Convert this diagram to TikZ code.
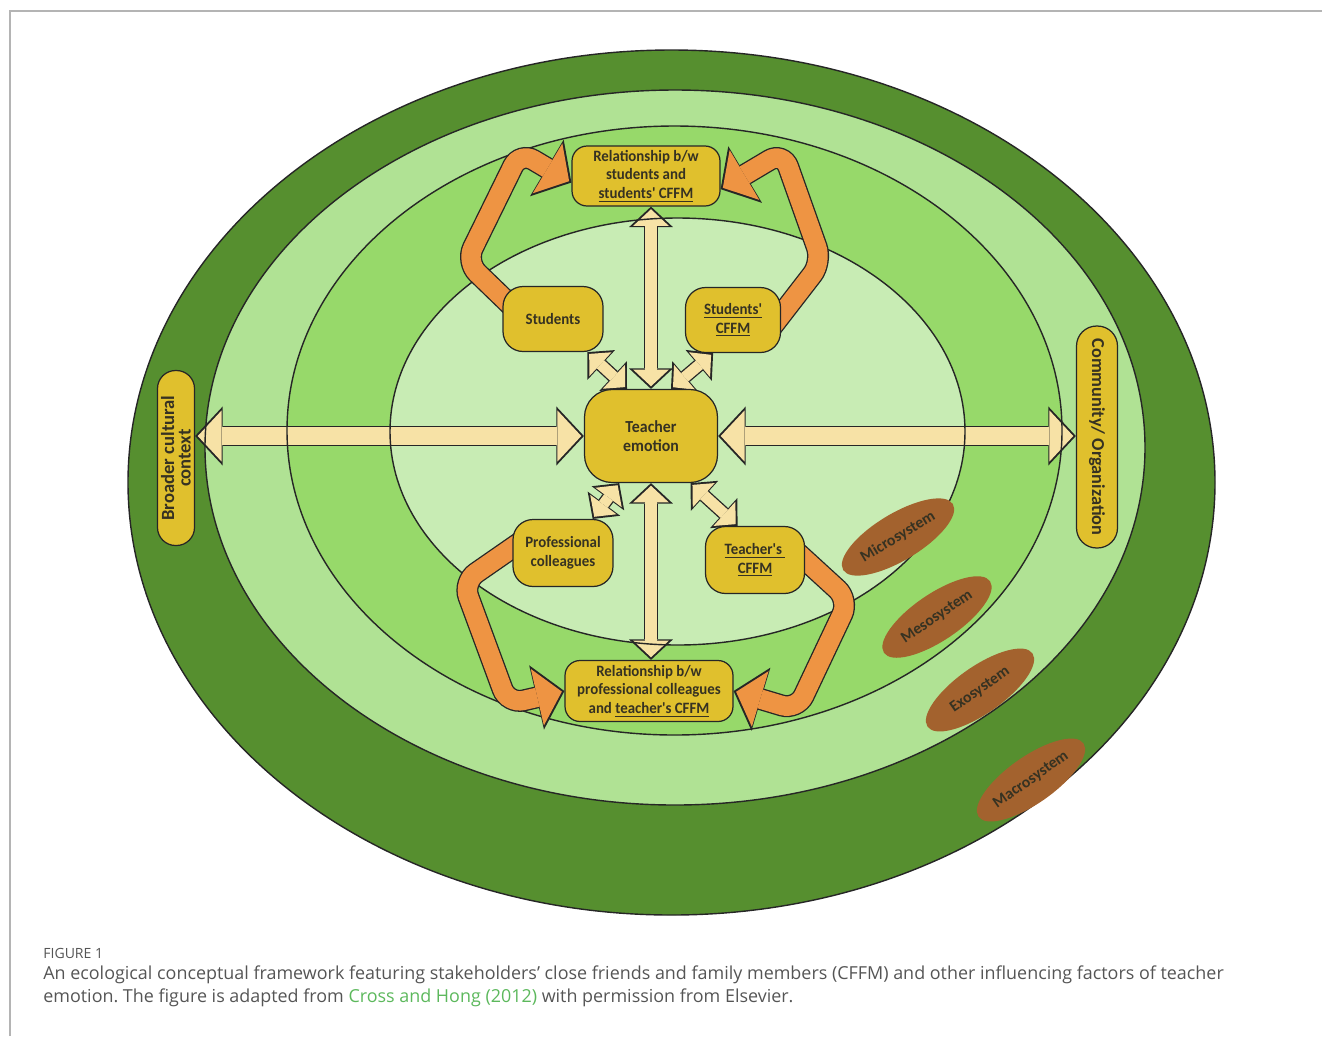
\documentclass[tikz,border=0pt]{standalone}
\usepackage{fontspec}
\setmainfont{Carlito}
\newfontfamily\boxfont{Carlito}[FakeStretch=0.94]
\newfontfamily\capfont{Open Sans}
\usepackage{tikz}
\usetikzlibrary{arrows.meta, shapes.geometric, positioning, calc}
\frenchspacing

\definecolor{macrogreen}{HTML}{568F2F}
\definecolor{exogreen}{HTML}{B0E294}
\definecolor{mesogreen}{HTML}{97D96A}
\definecolor{microgreen}{HTML}{C8ECB4}
\definecolor{boxyellow}{HTML}{E0C02D}
\definecolor{loopfill}{HTML}{EE9443}
\definecolor{creamfill}{HTML}{F7E2A6}
\definecolor{levelbrown}{HTML}{A3622E}
\definecolor{inkgrey}{HTML}{363222}
\definecolor{capgrey}{HTML}{555555}
\definecolor{framegrey}{HTML}{B4B4B4}
\definecolor{linkgreen}{HTML}{5CB85C}

\pgfdeclarelayer{rings}
\pgfdeclarelayer{links}
\pgfdeclarelayer{outlines}
\pgfdeclarelayer{loops}
\pgfsetlayers{rings,links,outlines,loops,main}

\begin{document}
\begin{tikzpicture}[
    x=0.02cm, y=-0.02cm,
    box/.style={
        rectangle, draw=black!85,
        line width=0.7pt,
        fill=boxyellow,
        text=inkgrey,
        rounded corners=0.4cm,
        align=center,
        inner sep=2pt,
        font=\boxfont\bfseries\fontsize{9}{10.6}\selectfont
    },
    level/.style={
        ellipse, fill=levelbrown,
        text=inkgrey,
        inner sep=0pt,
        minimum width=2.56cm,
        minimum height=0.94cm,
        font=\bfseries\fontsize{9}{10}\selectfont
    },
    ring/.style={draw=black!85, line width=0.8pt},
    twoway/.style={
        draw=creamfill, line width=#1,
        {Triangle[length=0pt 1.4, width=0pt 3, line width=0pt]}-{Triangle[length=0pt 1.4, width=0pt 3, line width=0pt]},
        shorten <=1.5pt, shorten >=1.5pt,
        preaction={draw=black!85, line width=#1+1.5pt, shorten <=0pt, shorten >=0pt}
    },
    feedback/.style={
        draw=loopfill, line width=11pt,
        rounded corners=9pt,
        -{Triangle[length=0pt 1.3, width=0pt 3, line width=0pt]},
        shorten >=1.5pt,
        preaction={draw=black!85, line width=12.5pt, shorten >=0pt}
    }
]
\useasboundingbox (0,0) rectangle (1322,1036);

% page frame
\draw[framegrey, line width=0.6pt] (10,1036) -- (10,11) -- (1322,11);

% Nested systems
\foreach \cx/\cy/\rx/\ry/\tone in {671.5/482.5/543.5/432.5/macrogreen,
    675/447.5/470/357.5/exogreen,
    674.5/430.5/387.5/304.5/mesogreen,
    677.5/431.5/287.5/213.5/microgreen}{
  \begin{pgfonlayer}{rings}
    \fill[\tone] (\cx,\cy) ellipse [x radius=\rx, y radius=\ry];
  \end{pgfonlayer}
  \begin{pgfonlayer}{outlines}
    \draw[ring] (\cx,\cy) ellipse [x radius=\rx, y radius=\ry];
  \end{pgfonlayer}
}

% Centre
\node[box, minimum width=2.66cm, minimum height=1.86cm, rounded corners=0.55cm,
      font=\boxfont\bfseries\fontsize{9.6}{11}\selectfont] (te) at (651,436) {Teacher\\emotion};

% Microsystem members
\node[box, minimum width=2cm, minimum height=1.3cm] (stu) at (553,319) {Students};
\node[box, minimum width=1.9cm, minimum height=1.3cm] (stucffm) at (733,320) {\underline{Students'}\\\underline{CFFM}};
\node[box, minimum width=2cm, minimum height=1.34cm] (prof) at (563,553) {Professional\\colleagues};
\node[box, minimum width=1.98cm, minimum height=1.34cm] (tcffm) at (755,560) {\underline{Teacher's }\\\underline{CFFM}};

% Mesosystem relationships
\node[box, minimum width=2.96cm, minimum height=1.2cm, rounded corners=0.3cm] (relstu) at (646,176) {Relationship b/w\\students and\\\underline{students' CFFM}};
\node[box, minimum width=3.36cm, minimum height=1.22cm, rounded corners=0.3cm] (relprof) at (649,691) {Relationship b/w\\professional colleagues\\and \underline{teacher's CFFM}};

% Outer contexts
\node[box, rotate=90, minimum width=3.5cm, minimum height=0.74cm, rounded corners=0.36cm, inner sep=0.5pt,
      font=\bfseries\fontsize{10.6}{9.4}\selectfont] (broad) at (176,458) {Broader cultural\\context};
\node[box, rotate=-90, minimum width=4.44cm, minimum height=0.82cm, rounded corners=0.4cm,
      font=\bfseries\fontsize{10.4}{11}\selectfont] (comm) at (1097,437) {Community/ Organization};

% Two-way links
\begin{pgfonlayer}{links}
\draw[twoway=9.7pt] (te.west) -- (te.west -| broad.south);
\draw[twoway=9.7pt] (te.east) -- (te.east -| comm.south);
\draw[twoway=6.8pt] (te.north) -- (te.north |- relstu.south);
\draw[twoway=6.8pt] (te.south) -- (te.south |- relprof.north);
\draw[twoway=6.2pt] (stu.-44) -- (te.117);
\draw[twoway=6.2pt] (stucffm.-121) -- (te.67);
\draw[twoway=6.2pt] (prof.49) -- (te.-124);
\draw[twoway=6.2pt] (tcffm.117) -- (te.-50);
\end{pgfonlayer}

% Feedback loops
\begin{pgfonlayer}{loops}
\draw[feedback] ($(stu)+(-28,0)$) -- (466,262) -- (520,152) -- (relstu.185);
\draw[feedback] ($(stucffm)+(38,8)$) -- (822,262) -- (783,152) -- (relstu.-10);
\draw[feedback] ($(prof)+(-38,-14)$) -- (463,582) -- (508,704) -- (relprof.west);
\draw[feedback] ($(tcffm)+(35,-14)$) -- (849,600) -- (797,710) -- (relprof.east);
\end{pgfonlayer}

% System labels
\begin{pgfonlayer}{outlines}
\node[level, rotate=31] (micro) at (898,537) {Microsystem};
\node[level, rotate=34] (meso) at (937,617) {Mesosystem};
\node[level, rotate=35] (exo) at (980,690) {Exosystem};
\node[level, rotate=35] (macro) at (1031,780) {Macrosystem};
\end{pgfonlayer}

% Caption
\node[anchor=west, inner sep=0pt, text=capgrey, font=\capfont\fontsize{8}{9}\selectfont] (figno) at (43,953) {FIGURE 1};
\node[anchor=north west, inner sep=0pt, align=left, text=capgrey, font=\capfont\fontsize{10.2}{13.1}\selectfont] (caption) at (43,965)
  {An ecological conceptual framework featuring stakeholders’ close friends and family members (CFFM) and other influencing factors of teacher\\%
emotion. The figure is adapted from \textcolor{linkgreen}{Cross and Hong (2012)} with permission from Elsevier.};

\end{tikzpicture}
\end{document}
